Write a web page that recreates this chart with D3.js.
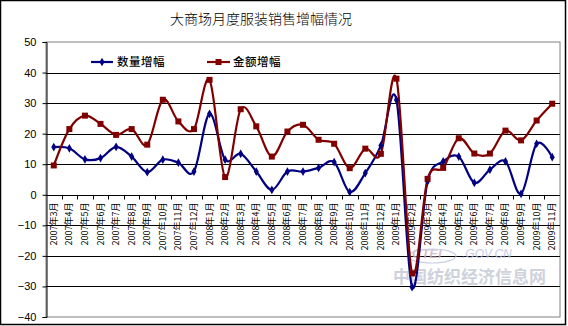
<!DOCTYPE html>
<html>
<head>
<meta charset="utf-8">
<script src="https://cdn.jsdelivr.net/npm/d3@7/dist/d3.min.js"></script>
<style>
  html, body { margin: 0; padding: 0; background: #fff; }
  svg { display: block; }
  text { font-family: "Liberation Sans", "DejaVu Sans", sans-serif; }
  .cjk { font-family: "Noto Sans CJK SC", "Noto Sans", sans-serif; }
</style>
</head>
<body>
<svg id="chart" width="568" height="326"></svg>
<script>
// Monthly growth of clothing sales in large shopping malls (%)
const months = [
  "2007年3月","2007年4月","2007年5月","2007年6月","2007年7月","2007年8月",
  "2007年9月","2007年10月","2007年11月","2007年12月",
  "2008年1月","2008年2月","2008年3月","2008年4月","2008年5月","2008年6月",
  "2008年7月","2008年8月","2008年9月","2008年10月","2008年11月","2008年12月",
  "2009年1月","2009年2月","2009年3月","2009年4月","2009年5月","2009年6月",
  "2009年7月","2009年8月","2009年9月","2009年10月","2009年11月"
];
const quantityGrowth = [
  15.6, 15.2, 11.6, 12.0, 15.7, 12.5, 7.4, 11.5, 10.5, 7.6,
  26.5, 11.5, 13.4, 7.6, 1.6, 7.6, 7.6, 8.8, 10.7, 0.9, 7.1, 16.1,
  31.0, -30.2, 4.4, 10.9, 12.5, 3.9, 8.2, 10.9, 0.3, 16.7, 12.3
];
const amountGrowth = [
  9.6, 21.5, 25.9, 23.2, 19.6, 21.5, 16.4, 31.1, 24.0, 21.5,
  37.6, 5.8, 28.0, 22.4, 12.5, 20.7, 22.9, 18.0, 16.7, 8.7, 15.1, 13.4,
  38.0, -25.7, 5.2, 8.8, 18.5, 13.5, 13.5, 21.0, 17.8, 24.3, 29.8
];
const yTicks = [50, 40, 30, 20, 10, 0, -10, -20, -30, -40];
const seriesNames = ["数量增幅", "金额增幅"];
const seriesColors = ["#000080", "#800000"];

const svg = d3.select("#chart");
const W = 568, H = 326;
const plot = { left: 46, right: 560, top: 42, bottom: 317 };

// outer frame
svg.append("rect")
  .attr("x", 0.5).attr("y", 0.5)
  .attr("width", W - 3).attr("height", H - 2)
  .attr("fill", "#fff").attr("stroke", "#000").attr("stroke-width", 1.5);

// title
svg.append("text")
  .attr("class", "cjk")
  .attr("x", 261).attr("y", 24)
  .attr("text-anchor", "middle")
  .attr("font-size", 14)
  .attr("font-weight", 300)
  .attr("fill", "#000")
  .text("大商场月度服装销售增幅情况");

const x = d3.scaleBand().domain(months).range([plot.left, plot.right]);
const y = d3.scaleLinear().domain([-40, 50]).range([plot.bottom, plot.top]);
const cx = d => x(d) + x.bandwidth() / 2;

// plot area border (grey) on top/right/bottom
svg.append("rect")
  .attr("x", plot.left).attr("y", y(50))
  .attr("width", plot.right - plot.left).attr("height", y(-40) - y(50))
  .attr("fill", "none").attr("stroke", "#808080").attr("stroke-width", 1);

// horizontal gridlines
svg.append("g")
  .selectAll("line")
  .data(yTicks.filter(t => t !== 50 && t !== -40))
  .join("line")
  .attr("x1", plot.left).attr("x2", plot.right)
  .attr("y1", d => Math.round(y(d)) + 0.5).attr("y2", d => Math.round(y(d)) + 0.5)
  .attr("stroke", "#000").attr("stroke-width", 1);

// y axis
const yAxis = d3.axisLeft(y).tickValues(yTicks).tickSize(4).tickPadding(6)
  .tickFormat(d => d);
const gy = svg.append("g").attr("transform", `translate(${plot.left + 0.5},0)`).call(yAxis);
gy.select(".domain").attr("stroke", "#000");
gy.selectAll(".tick line").attr("stroke", "#000");
gy.selectAll(".tick text")
  .attr("font-size", 11)
  .attr("font-family", "'DejaVu Sans Mono', 'Liberation Mono', monospace")
  .attr("fill", "#000")
  .text(d => d < 0 ? "\u2212" + Math.abs(d) : d);

// x axis along zero line, ticks between categories
const y0 = Math.round(y(0)) + 0.5;
svg.append("line")
  .attr("x1", plot.left).attr("x2", plot.right)
  .attr("y1", y0).attr("y2", y0)
  .attr("stroke", "#000").attr("stroke-width", 1);
svg.append("g")
  .selectAll("line")
  .data(months.slice(1))
  .join("line")
  .attr("x1", d => Math.round(x(d)) + 0.5).attr("x2", d => Math.round(x(d)) + 0.5)
  .attr("y1", y0).attr("y2", y0 + 4)
  .attr("stroke", "#000");

// vertical category labels
svg.append("g")
  .selectAll("text")
  .data(months)
  .join("text")
  .attr("class", "cjk")
  .attr("font-size", 9)
  .attr("fill", "#000")
  .attr("text-anchor", "end")
  .attr("transform", d => `translate(${cx(d) + 3},${y0 + 7}) rotate(-90)`)
  .text(d => d);

// watermark
const wm = svg.append("g").attr("opacity", 0.8);
wm.append("text")
  .attr("class", "cjk")
  .attr("x", 393).attr("y", 283)
  .attr("font-size", 17).attr("font-weight", "bold")
  .attr("fill", "#c4c8d4")
  .text("中国纺织经济信息网");
wm.append("text")
  .attr("x", 462).attr("y", 258)
  .attr("font-size", 12).attr("font-style", "italic")
  .attr("fill", "#b4bee4")
  .text(".GOV.CN");
wm.append("text")
  .attr("x", 412).attr("y", 258)
  .attr("font-size", 13).attr("font-style", "italic").attr("font-weight", "bold")
  .attr("fill", "#c8b4c0")
  .text("CTEI");
wm.append("ellipse")
  .attr("cx", 432).attr("cy", 256).attr("rx", 24).attr("ry", 7)
  .attr("fill", "none").attr("stroke", "#bcc4e0").attr("stroke-width", 1.2);

// series lines
const line = d3.line()
  .x((d, i) => cx(months[i]))
  .y(d => y(d))
  .curve(d3.curveCardinal.tension(0));

const series = [quantityGrowth, amountGrowth];
series.forEach((vals, s) => {
  svg.append("path")
    .datum(vals)
    .attr("d", line)
    .attr("fill", "none")
    .attr("stroke", seriesColors[s])
    .attr("stroke-width", 2.2);
});

// markers: diamonds for quantity, squares for amount
const diamond = d3.symbol().type(d3.symbolDiamond).size(22);
svg.append("g")
  .selectAll("path")
  .data(quantityGrowth)
  .join("path")
  .attr("d", diamond)
  .attr("transform", (d, i) => `translate(${cx(months[i])},${y(d)})`)
  .attr("fill", seriesColors[0]);

svg.append("g")
  .selectAll("rect")
  .data(amountGrowth)
  .join("rect")
  .attr("x", (d, i) => cx(months[i]) - 3)
  .attr("y", d => y(d) - 3)
  .attr("width", 6).attr("height", 6)
  .attr("fill", seriesColors[1]);

// legend
const legend = [
  { name: seriesNames[0], color: seriesColors[0], x1: 91, x2: 113, tx: 117, mark: "diamond" },
  { name: seriesNames[1], color: seriesColors[1], x1: 207, x2: 230, tx: 233, mark: "square" }
];
const ly = 62;
legend.forEach(l => {
  svg.append("line")
    .attr("x1", l.x1).attr("x2", l.x2).attr("y1", ly).attr("y2", ly)
    .attr("stroke", l.color).attr("stroke-width", 2.2);
  const mx = (l.x1 + l.x2) / 2;
  if (l.mark === "diamond") {
    svg.append("path").attr("d", diamond)
      .attr("transform", `translate(${mx},${ly})`).attr("fill", l.color);
  } else {
    svg.append("rect").attr("x", mx - 3).attr("y", ly - 3)
      .attr("width", 6).attr("height", 6).attr("fill", l.color);
  }
  svg.append("text")
    .attr("class", "cjk")
    .attr("x", l.tx).attr("y", ly + 4)
    .attr("font-size", 11.5).attr("font-weight", 500)
    .attr("letter-spacing", 0.5)
    .attr("fill", "#000")
    .text(l.name);
});
</script>
</body>
</html>
